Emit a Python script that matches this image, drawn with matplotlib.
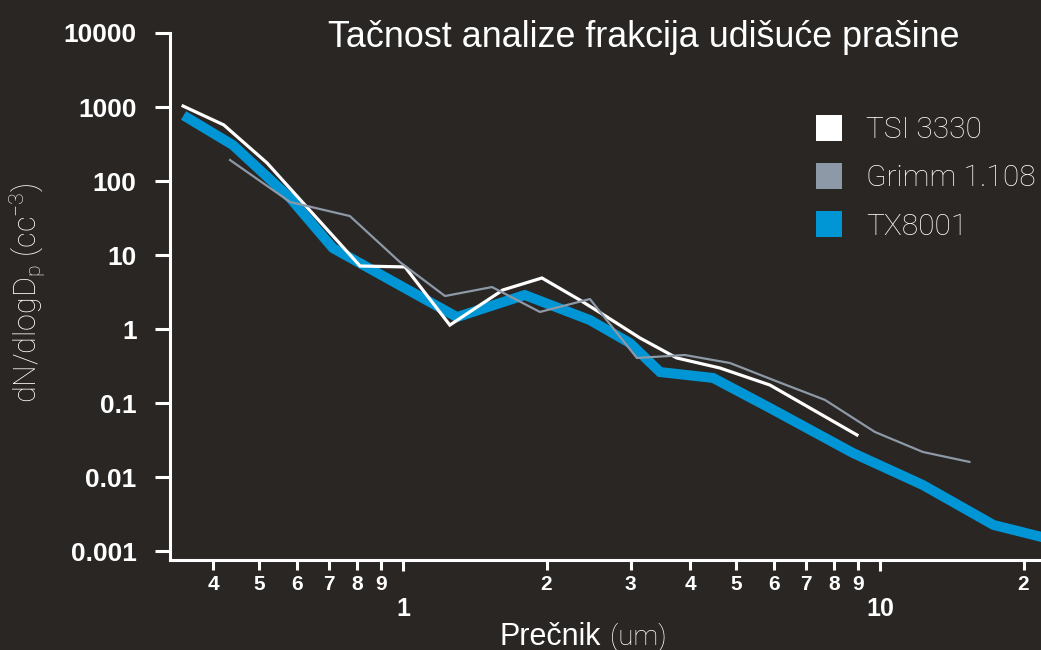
import matplotlib
matplotlib.use('Agg')
import matplotlib.pyplot as plt
from matplotlib.lines import Line2D
from matplotlib.ticker import NullLocator

plt.rcParams['font.family'] = ['Liberation Sans', 'DejaVu Sans']

# values (diameter in um, dN/dlogDp in cc^-3)
tsi_x = [0.346, 0.421, 0.519, 0.813, 1.01, 1.254, 1.62, 1.956, 2.35, 2.68, 3.14, 3.75, 4.62, 5.88, 8.95]
tsi_y = [1030, 573, 175, 7.1, 6.9, 1.13, 3.37, 4.89, 2.46, 1.45, 0.756, 0.406, 0.297, 0.175, 0.037]

grimm_x = [0.434, 0.58, 0.774, 0.986, 1.225, 1.537, 1.937, 2.466, 3.094, 3.90, 4.85, 5.97, 7.67, 9.76, 12.3, 15.4]
grimm_y = [192, 52, 33.6, 8.0, 2.79, 3.69, 1.70, 2.54, 0.406, 0.445, 0.347, 0.205, 0.110, 0.0406, 0.0218, 0.016]

tx_x = [0.354, 0.440, 0.580, 0.713, 1.298, 1.80, 2.466, 2.99, 3.46, 4.47, 5.88, 8.78, 12.3, 17.3, 21.8]
tx_y = [710, 306, 58.9, 12.4, 1.45, 2.88, 1.32, 0.647, 0.262, 0.218, 0.0856, 0.0211, 0.0078, 0.00225, 0.00155]

series_names = ['TSI 3330', 'Grimm 1.108', 'TX8001']

y_ticks = [0.001, 0.01, 0.1, 1, 10, 100, 1000, 10000]
y_labels = ['0.001', '0.01', '0.1', '1', '10', '100', '1000', '10000']
x_major = [1, 10]
x_major_labels = ['1', '10']
x_minor = [0.4, 0.5, 0.6, 0.7, 0.8, 0.9, 2, 3, 4, 5, 6, 7, 8, 9, 20]
x_minor_labels = ['4', '5', '6', '7', '8', '9', '2', '3', '4', '5', '6', '7', '8', '9', '2']

bg = '#292624'
c_tsi = 'white'
c_grimm = '#8d99a6'
c_tx = '#0096d6'

fig = plt.figure(figsize=(10.41, 6.5), dpi=100, facecolor=bg)
ax = fig.add_axes([170 / 1041, 90 / 650, 871 / 1041, 527 / 650])
ax.set_facecolor(bg)

ax.plot(tx_x, tx_y, color=c_tx, lw=7.2, solid_joinstyle='miter', zorder=2)
ax.plot(tsi_x, tsi_y, color=c_tsi, lw=2.3, solid_joinstyle='miter', zorder=3)
ax.plot(grimm_x, grimm_y, color=c_grimm, lw=1.6, zorder=4)

ax.set_xscale('log')
ax.set_yscale('log')
ax.set_xlim(0.3248, 21.76)
ax.set_ylim(7.56e-4, 1e4)

for s in ['top', 'right']:
    ax.spines[s].set_visible(False)
for s in ['left', 'bottom']:
    ax.spines[s].set_color('white')
    ax.spines[s].set_linewidth(2.2)

ax.set_yticks(y_ticks, y_labels, fontsize=19, fontweight='bold', color='white')
ax.yaxis.set_minor_locator(NullLocator())
ax.tick_params(axis='y', length=11, width=2.2, pad=13, color='white')

ax.set_xticks(x_major, x_major_labels, fontsize=18, fontweight='bold', color='white')
ax.set_xticks(x_minor, x_minor_labels, minor=True, fontsize=15, fontweight='bold', color='white')
ax.tick_params(axis='x', which='major', length=8, width=2.2, pad=19, color='white')
ax.tick_params(axis='x', which='minor', length=7, width=2.2, pad=4, color='white')

fig.text(328 / 1041, 1 - 47 / 650, 'Tačnost analize frakcija udišuće prašine',
         fontsize=25.8, color='white', ha='left', va='baseline')

fig.text(28 / 1041, 1 - 293 / 650,
         r'dN/dlogD$_\mathregular{p}$ (cc$^\mathregular{-3}$)',
         fontsize=22, color='white', rotation=90, ha='center', va='center',
         family=['Roboto', 'DejaVu Sans'], fontweight='light')

fig.text(500 / 1041, 1 - 645 / 650, 'Prečnik', fontsize=22, color='white',
         ha='left', va='baseline')
fig.text(610 / 1041, 1 - 645 / 650, '(um)', fontsize=20, color='white',
         ha='left', va='baseline', family=['Roboto', 'DejaVu Sans'], fontweight='light')

handles = [Line2D([], [], ls='', marker='s', markersize=18.7, color=c, markeredgewidth=0)
           for c in [c_tsi, c_grimm, c_tx]]
ax.legend(handles, series_names, loc='upper left', bbox_to_anchor=(817 / 1041, 1 - 116 / 650),
          bbox_transform=fig.transFigure, frameon=False, borderpad=0, borderaxespad=0,
          handlelength=0.8, handletextpad=0.85, labelspacing=0.68, labelcolor='white',
          prop={'family': ['Roboto', 'DejaVu Sans'], 'weight': 'light', 'size': 21.5})

fig.savefig('out.png', dpi=100, facecolor=bg)
